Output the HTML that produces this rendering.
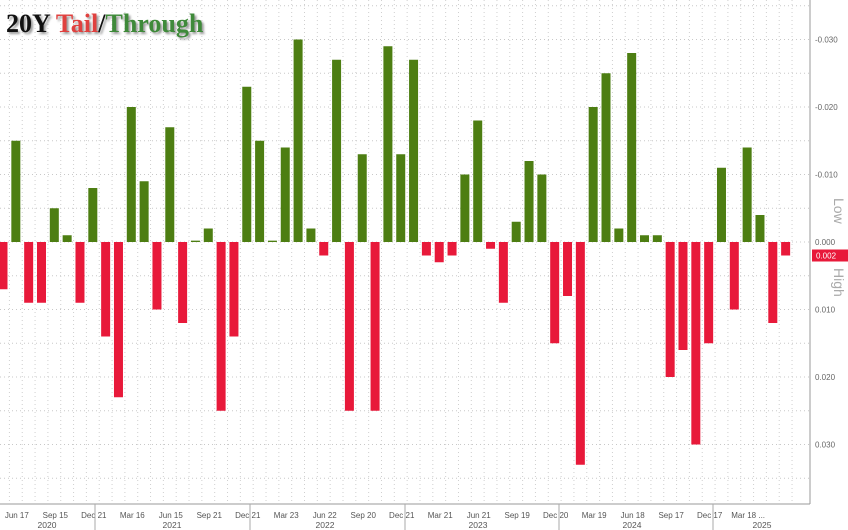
<!DOCTYPE html>
<html><head><meta charset="utf-8"><style>
body{margin:0;background:#fff;}
svg{display:block;font-family:"Liberation Sans",sans-serif;}
</style></head><body>
<svg id="chart" width="848" height="530">
<g id="grid"></g>
<g id="bars"></g>
<g id="axes"></g>
<text x="6" y="32" font-family="Liberation Serif,serif" font-weight="bold" font-size="26" style="text-shadow:2px 2px 2px #999"><tspan fill="#111">20Y </tspan><tspan fill="#e0413f">Tail</tspan><tspan fill="#111">/</tspan><tspan fill="#3f8a3a">Through</tspan></text>
</svg>
<script>
const values=[-0.007,0.015,-0.009,-0.009,0.005,0.001,-0.009,0.008,-0.014,-0.023,0.020,0.009,-0.010,0.017,-0.012,0.0002,0.002,-0.025,-0.014,0.023,0.015,0.0002,0.014,0.030,0.002,-0.002,0.027,-0.025,0.013,-0.025,0.029,0.013,0.027,-0.002,-0.003,-0.002,0.010,0.018,-0.001,-0.009,0.003,0.012,0.010,-0.015,-0.008,-0.033,0.020,0.025,0.002,0.028,0.001,0.001,-0.020,-0.016,-0.030,-0.015,0.011,-0.010,0.014,0.004,-0.012,-0.002];
const tickLabels=["0.030","0.020","0.010","0.000","0.010","0.020","0.030"];
const tickValues=[0.03,0.02,0.01,0,-0.01,-0.02,-0.03];
const xLabels=["Jun 17","Sep 15","Dec 21","Mar 16","Jun 15","Sep 21","Dec 21","Mar 23","Jun 22","Sep 20","Dec 21","Mar 21","Jun 21","Sep 19","Dec 20","Mar 19","Jun 18","Sep 17","Dec 17","Mar 18 ..."];
const years=["2020","2021","2022","2023","2024","2025"];
const yearPos=[47,172,325,478,632,762];
const yearSeps=[95,250,405,559,713];
const NS="http://www.w3.org/2000/svg";
const x0=3,step=12.83,bw=9,plotR=810,plotB=504;
const y=v=>242-v*6750;
const xc=i=>x0+i*step;
function mk(tag,attrs,parent){const e=document.createElementNS(NS,tag);for(const k in attrs)e.setAttribute(k,attrs[k]);parent.appendChild(e);return e;}
const grid=document.getElementById('grid'),bars=document.getElementById('bars'),axes=document.getElementById('axes');
for(let v=-0.035;v<=0.0351;v+=0.005){const l=mk('line',{x1:0,x2:plotR,y1:y(v),y2:y(v),stroke:'#c8c8c8','stroke-dasharray':'1,3'},grid);

}
for(let i=0;i<=values.length;i++){const gx=xc(i)-step/2;const l=mk('line',{x1:gx,x2:gx,y1:0,y2:plotB,stroke:'#cfcfcf','stroke-dasharray':'1,3'},grid);

}
values.forEach((v,i)=>{const top=Math.min(y(v),y(0)),h=Math.max(Math.abs(y(v)-y(0)),1);
const r=mk('rect',{x:xc(i)-bw/2,y:top,width:bw,height:h,fill:v>=0?'#4d7e12':'#e8193a'},bars);

});
const ax=mk('line',{x1:plotR,x2:plotR,y1:0,y2:plotB,stroke:'#999'},axes);


const bx=mk('line',{x1:0,x2:plotR,y1:plotB,y2:plotB,stroke:'#999'},axes);


tickValues.forEach((v,i)=>{const t=mk('text',{x:plotR+5,y:y(v)+3,'font-size':8,fill:'#666'},axes);t.textContent=(v>0?'-':'')+tickLabels[i];

});
xLabels.forEach((s,i)=>{const t=mk('text',{x:xc(i*3+1)+1,y:518,'font-size':8,fill:'#555','text-anchor':'middle'},axes);t.textContent=s;

});
years.forEach((s,i)=>{const t=mk('text',{x:yearPos[i],y:528,'font-size':8.5,fill:'#555','text-anchor':'middle'},axes);t.textContent=s;

});
yearSeps.forEach(sx=>{const l=mk('line',{x1:sx,x2:sx,y1:plotB,y2:530,stroke:'#aaa'},axes);

});
const lastV=values[values.length-1];
const tag=mk('rect',{x:plotR+2,y:y(lastV)-6,width:36,height:12,fill:'#e8193a'},axes);


const tt=mk('text',{x:plotR+6,y:y(lastV)+3,'font-size':8,fill:'#fff'},axes);tt.textContent=Math.abs(lastV).toFixed(3);


const low=mk('text',{x:834,y:198,'font-size':14,fill:'#aaa',transform:'rotate(90 834 198)'},axes);low.textContent='Low';


const high=mk('text',{x:834,y:268,'font-size':14,fill:'#aaa',transform:'rotate(90 834 268)'},axes);high.textContent='High';


</script>
</body></html>
